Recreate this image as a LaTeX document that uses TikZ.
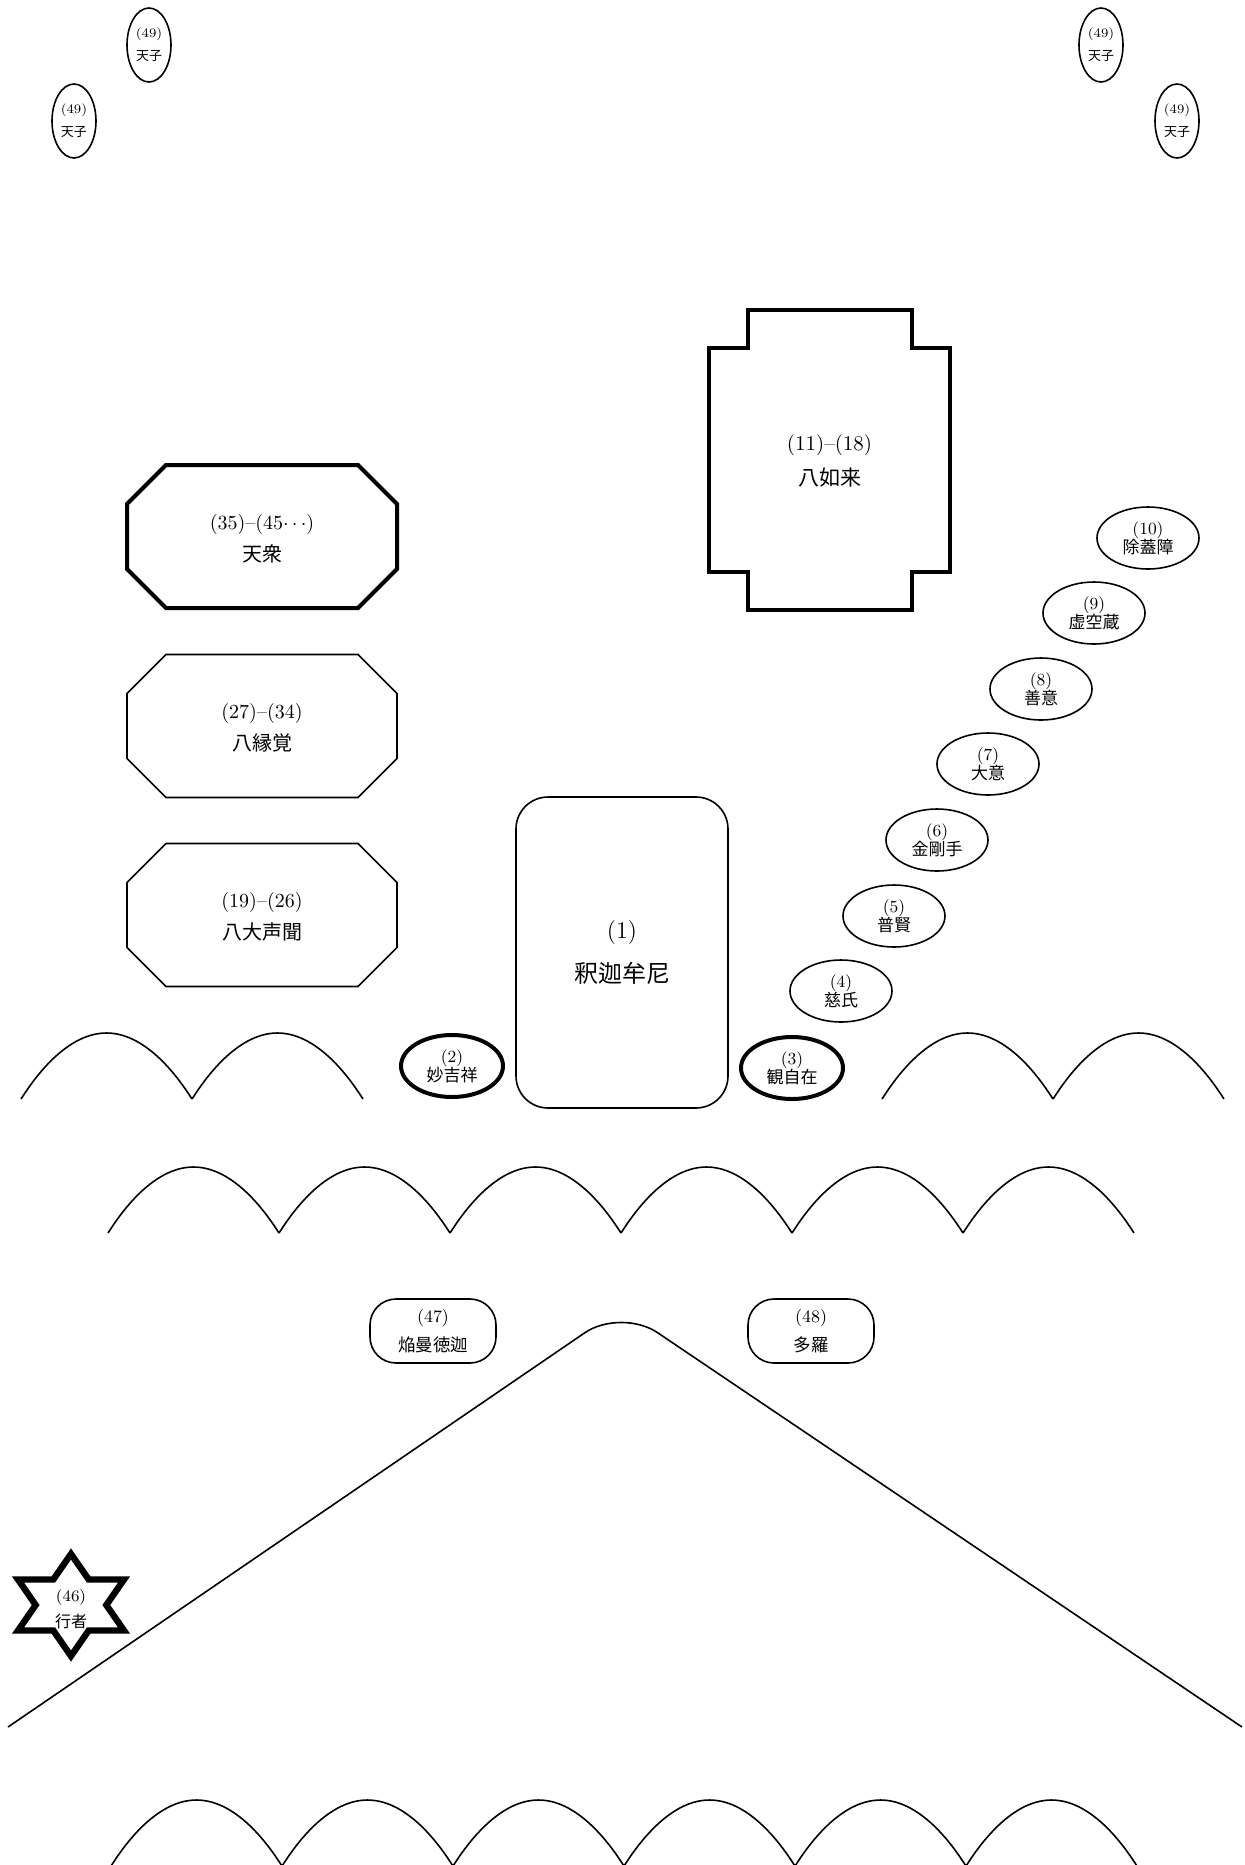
\documentclass[tikz,border=0pt]{standalone}
\usepackage{fontspec}
\newfontfamily\jp{Noto Sans CJK JP}
\usepackage{tikz}
\usetikzlibrary{shapes.geometric}
\tikzset{
    sen/.style={draw=black, thick},
    futo/.style={draw=black, line width=2pt},
    moji/.style={align=center, inner sep=0pt},
    bosatsu/.style={sen, ellipse, moji, minimum width=51pt, minimum height=31pt, font=\fontsize{8.5}{9.5}\selectfont},
    tenshi/.style={sen, ellipse, moji, minimum width=22pt, minimum height=37pt, font=\fontsize{6.5}{11.5}\selectfont},
    myoo/.style={sen, rectangle, rounded corners=13pt, moji, minimum width=63pt, minimum height=32pt, font=\fontsize{8.75}{14.75}\selectfont}
}
% octagon: center x, center y, style
\newcommand{\hakkaku}[3]{%
    \draw[#3] (#1-96,#2-71.5) -- (#1+96,#2-71.5) -- (#1+135,#2-32.5) -- (#1+135,#2+32.5)
        -- (#1+96,#2+71.5) -- (#1-96,#2+71.5) -- (#1-135,#2+32.5) -- (#1-135,#2-32.5) -- cycle;}

\begin{document}
\begin{tikzpicture}[x=0.5pt, y=-0.5pt]
    \useasboundingbox (0,0) rectangle (1244,1865);

    % Tenshi
    \node[tenshi] (tenshiA) at (149,45) {(49)\\{\jp 天子}};
    \node[tenshi] (tenshiB) at (74,121) {(49)\\{\jp 天子}};
    \node[tenshi] (tenshiC) at (1101,45) {(49)\\{\jp 天子}};
    \node[tenshi] (tenshiD) at (1177,121) {(49)\\{\jp 天子}};

    % Hachi nyorai
    \draw[futo] (709,348) -- (748,348) -- (748,310) -- (912,310) -- (912,348) -- (950,348)
        -- (950,572) -- (912,572) -- (912,610) -- (748,610) -- (748,572) -- (709,572) -- cycle;
    \node[moji, font=\fontsize{10.5}{17.5}\selectfont] (nyorai) at (829.5,461) {(11)--(18)\\{\jp 八如来}};

    % Octagons
    \hakkaku{262}{536.5}{futo}
    \node[moji, font=\fontsize{10}{16}\selectfont] (tenshu) at (262,539) {(35)--(45$\cdots$)\\{\jp 天衆}};
    \hakkaku{262}{726}{sen}
    \node[moji, font=\fontsize{10}{16}\selectfont] (engaku) at (262,728) {(27)--(34)\\{\jp 八縁覚}};
    \hakkaku{262}{915}{sen}
    \node[moji, font=\fontsize{10}{16}\selectfont] (shomon) at (262,917) {(19)--(26)\\{\jp 八大声聞}};

    % Shaka
    \node[sen, rectangle, rounded corners=16pt, moji, minimum width=106pt, minimum height=155.5pt,
        font=\fontsize{12}{22}\selectfont] (shaka) at (622,952.5) {(1)\\{\jp 釈迦牟尼}};
    \node[bosatsu, futo] (myokichijo) at (452,1066) {(2)\\{\jp 妙吉祥}};
    \node[bosatsu, futo] (kanjizai) at (792,1068) {(3)\\{\jp 観自在}};

    % Bosatsu
    \foreach \n/\x/\y/\nm in {4/841/991/慈氏, 5/894/916/普賢, 6/937/840/金剛手, 7/988/764/大意,
        8/1041/689/善意, 9/1094/613/虚空蔵, 10/1148/538/除蓋障}
        \node[bosatsu] (bosatsu\n) at (\x,\y) {(\n)\\{\jp\nm}};

    % Clouds
    \foreach \x in {21,192,882,1053}
        \draw[sen] (\x,1099) parabola bend (\x+85.5,1033) (\x+171,1099);
    \foreach \i in {0,...,5} {
        \draw[sen] (108+171*\i,1233) parabola bend (193.5+171*\i,1167) (279+171*\i,1233);
        \draw[sen] (111+171*\i,1866) parabola bend (196.5+171*\i,1800) (282+171*\i,1866);
    }

    % Myoo
    \node[myoo] (enmantokuka) at (433,1331) {(47)\\{\jp 焔曼徳迦}};
    \node[myoo] (tara) at (811,1331) {(48)\\{\jp 多羅}};

    % Mountain
    \draw[sen, rounded corners=22pt] (8,1727) -- (621,1308) -- (1242,1727);

    % Gyoja
    \draw[line width=3.2pt, fill=white] (71,1554) -- (88.7,1579.5) -- (124,1579.5) -- (106.3,1605)
        -- (124,1630.5) -- (88.7,1630.5) -- (71,1656) -- (53.3,1630.5) -- (18,1630.5)
        -- (35.7,1605) -- (18,1579.5) -- (53.3,1579.5) -- cycle;
    \node[moji, font=\fontsize{8}{13}\selectfont] (gyoja) at (71,1609) {(46)\\{\jp 行者}};
\end{tikzpicture}
\end{document}
